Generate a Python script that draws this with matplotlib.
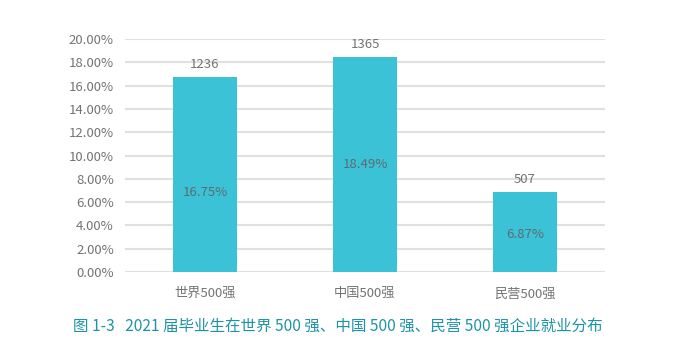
import matplotlib
matplotlib.use("Agg")
import matplotlib.pyplot as plt
from matplotlib.ticker import FuncFormatter

plt.rcParams['font.family'] = ['Noto Sans CJK SC', 'DejaVu Sans']

categories = ["世界500强", "中国500强", "民营500强"]
shares = [16.75, 18.49, 6.87]
counts = [1236, 1365, 507]
title = "图 1-3   2021 届毕业生在世界 500 强、中国 500 强、民营 500 强企业就业分布"

# where the percent labels sit inside the bars (share of bar height)
label_frac = [0.405, 0.497, 0.475]

bar_color = "#3BC2D6"
text_color = "#737373"

fig = plt.figure(figsize=(6.84, 3.57), dpi=100)
ax = fig.add_axes([0.1827, 0.238, 0.7018, 0.6528])

x = range(len(categories))
ax.bar(x, shares, width=0.4, color=bar_color, zorder=3)

for xi, s, c, f in zip(x, shares, counts, label_frac):
    ax.text(xi, s + 0.5, str(c), ha="center", va="bottom", fontsize=9.5, color=text_color)
    ax.text(xi, s * f, f"{s:.2f}%", ha="center", va="center", fontsize=9.5, color="#5f6b6e")

ax.set_xlim(-0.5, 2.5)
ax.set_ylim(0, 20)
ax.set_yticks([i * 2 for i in range(11)])
ax.yaxis.set_major_formatter(FuncFormatter(lambda v, p: f"{v:.2f}%"))
ax.set_xticks(list(x))
ax.set_xticklabels(categories)
ax.grid(axis="y", color="#E0E0E0", linewidth=1.5, zorder=0)
ax.tick_params(length=0, labelsize=9.5, labelcolor=text_color)
ax.tick_params(axis="x", pad=11)
ax.tick_params(axis="y", pad=8)
for sp in ax.spines.values():
    sp.set_visible(False)

fig.text(0.494, 0.087, title, ha="center", va="center", fontsize=11.2, color="#1E93A6")

fig.savefig("out.png", dpi=100)
